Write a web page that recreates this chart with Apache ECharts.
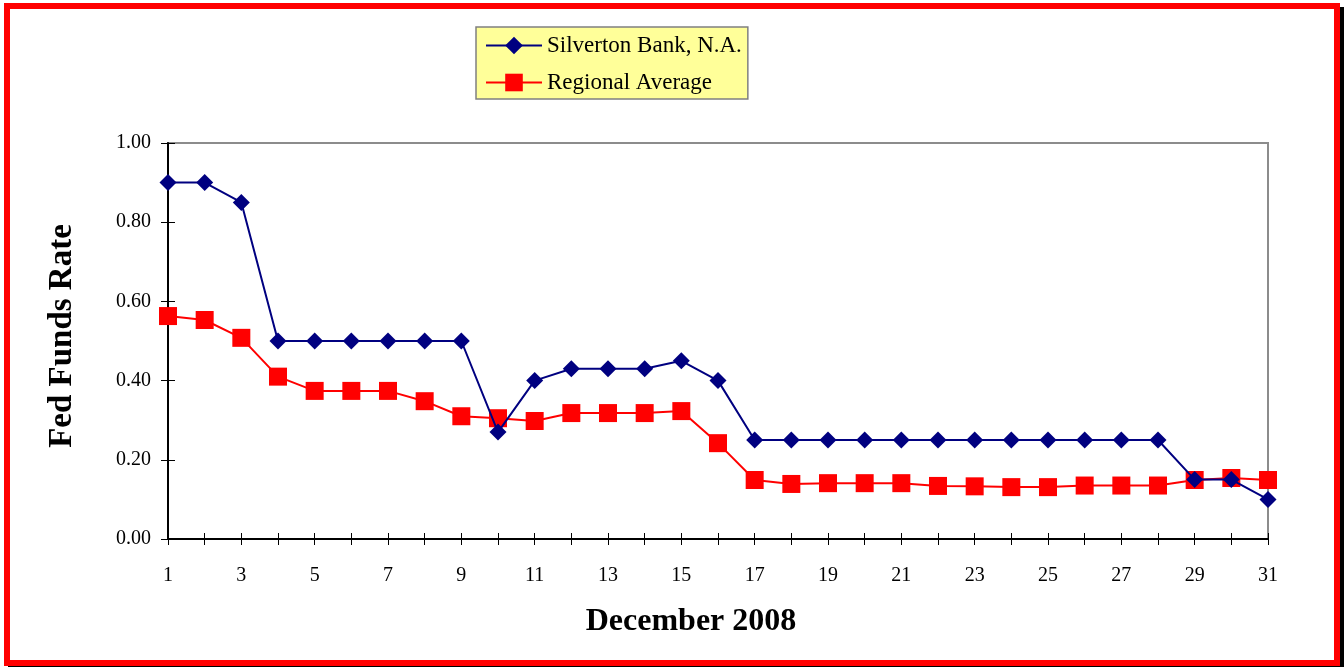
<!DOCTYPE html>
<html>
<head>
<meta charset="utf-8">
<script src="https://cdn.jsdelivr.net/npm/echarts@6/dist/echarts.min.js"></script>
<style>
html,body{margin:0;padding:0;background:#fff;}
#wrap{position:relative;width:1344px;height:667px;overflow:hidden;background:#fff;}
#frame{position:absolute;left:4px;top:3px;width:1324px;height:651px;border:6px solid #ff0000;box-shadow:4px 4px 0 #000;}
#chart{position:absolute;left:0;top:0;width:1344px;height:667px;}
</style>
</head>
<body>
<div id="wrap"><div id="frame"></div><div id="chart"></div></div>
<script>
const days = ['1','2','3','4','5','6','7','8','9','10','11','12','13','14','15','16','17','18','19','20','21','22','23','24','25','26','27','28','29','30','31'];
const silverton = [0.90,0.90,0.85,0.50,0.50,0.50,0.50,0.50,0.50,0.27,0.40,0.43,0.43,0.43,0.45,0.40,0.25,0.25,0.25,0.25,0.25,0.25,0.25,0.25,0.25,0.25,0.25,0.25,0.15,0.15,0.10];
const regional = [0.563,0.553,0.508,0.410,0.374,0.374,0.374,0.348,0.310,0.305,0.298,0.318,0.318,0.318,0.323,0.242,0.149,0.139,0.141,0.141,0.141,0.134,0.133,0.131,0.131,0.135,0.135,0.135,0.149,0.154,0.149];
const seriesNames = ['Silverton Bank, N.A.','Regional Average'];
const yTitle = 'Fed Funds Rate';
const xTitle = 'December 2008';

const chart = echarts.init(document.getElementById('chart'));
const serif = 'Liberation Serif, Times New Roman, serif';
chart.setOption({
  animation:false,
  backgroundColor:'transparent',
  grid:{left:168,right:76,top:143,bottom:128,show:true,borderColor:'#8c8c8c',borderWidth:2,backgroundColor:'transparent'},
  legend:{
    orient:'vertical',left:476,top:27,itemGap:14,itemWidth:56,itemHeight:22,
    backgroundColor:'#ffff99',borderColor:'#808080',borderWidth:1.5,
    padding:[7,6,5,9],
    textStyle:{fontFamily:serif,fontSize:23,color:'#000'},
    data:[seriesNames[0],seriesNames[1]]
  },
  graphic:[{
    type:'text',x:691,y:622,
    style:{text:xTitle,fontFamily:serif,fontSize:32,fontWeight:'bold',fill:'#000',textAlign:'center',textVerticalAlign:'middle'}
  },{
    type:'text',x:62,y:336,rotation:Math.PI/2,
    style:{text:yTitle,fontFamily:serif,fontSize:33,fontWeight:'bold',fill:'#000',textAlign:'center',textVerticalAlign:'middle'}
  }],
  xAxis:[{
    type:'category',data:days,boundaryGap:false,
    axisLine:{lineStyle:{color:'#000',width:2}},
    axisTick:{show:true,interval:0,length:6,lineStyle:{color:'#000',width:1}},
    axisLabel:{interval:1,fontFamily:serif,fontSize:20,color:'#000',margin:27},
    splitLine:{show:false}
  },{
    type:'category',data:days,boundaryGap:false,position:'bottom',
    axisLine:{show:false},
    axisTick:{show:true,inside:true,interval:0,length:6,lineStyle:{color:'#000',width:1}},
    axisLabel:{show:false},splitLine:{show:false}
  }],
  yAxis:[{
    type:'value',min:0,max:1,interval:0.2,
    axisLine:{show:true,lineStyle:{color:'#000',width:2}},
    axisTick:{show:true,length:7,lineStyle:{color:'#000',width:1}},
    axisLabel:{fontFamily:serif,fontSize:20,color:'#000',margin:17,formatter:v=>v.toFixed(2)},
    splitLine:{show:false}
  },{
    type:'value',min:0,max:1,interval:0.2,position:'left',
    axisLine:{show:false},
    axisTick:{show:true,inside:true,length:7,lineStyle:{color:'#000',width:1}},
    axisLabel:{show:false},splitLine:{show:false}
  }],
  series:[{
    name:seriesNames[0],type:'line',data:silverton,
    symbol:'diamond',symbolSize:[17,17],
    lineStyle:{color:'#000080',width:2},itemStyle:{color:'#000080'},z:3
  },{
    name:seriesNames[1],type:'line',data:regional,
    symbol:'rect',symbolSize:18,
    lineStyle:{color:'#ff0000',width:2},itemStyle:{color:'#ff0000'},z:2
  }]
});
</script>
</body>
</html>
